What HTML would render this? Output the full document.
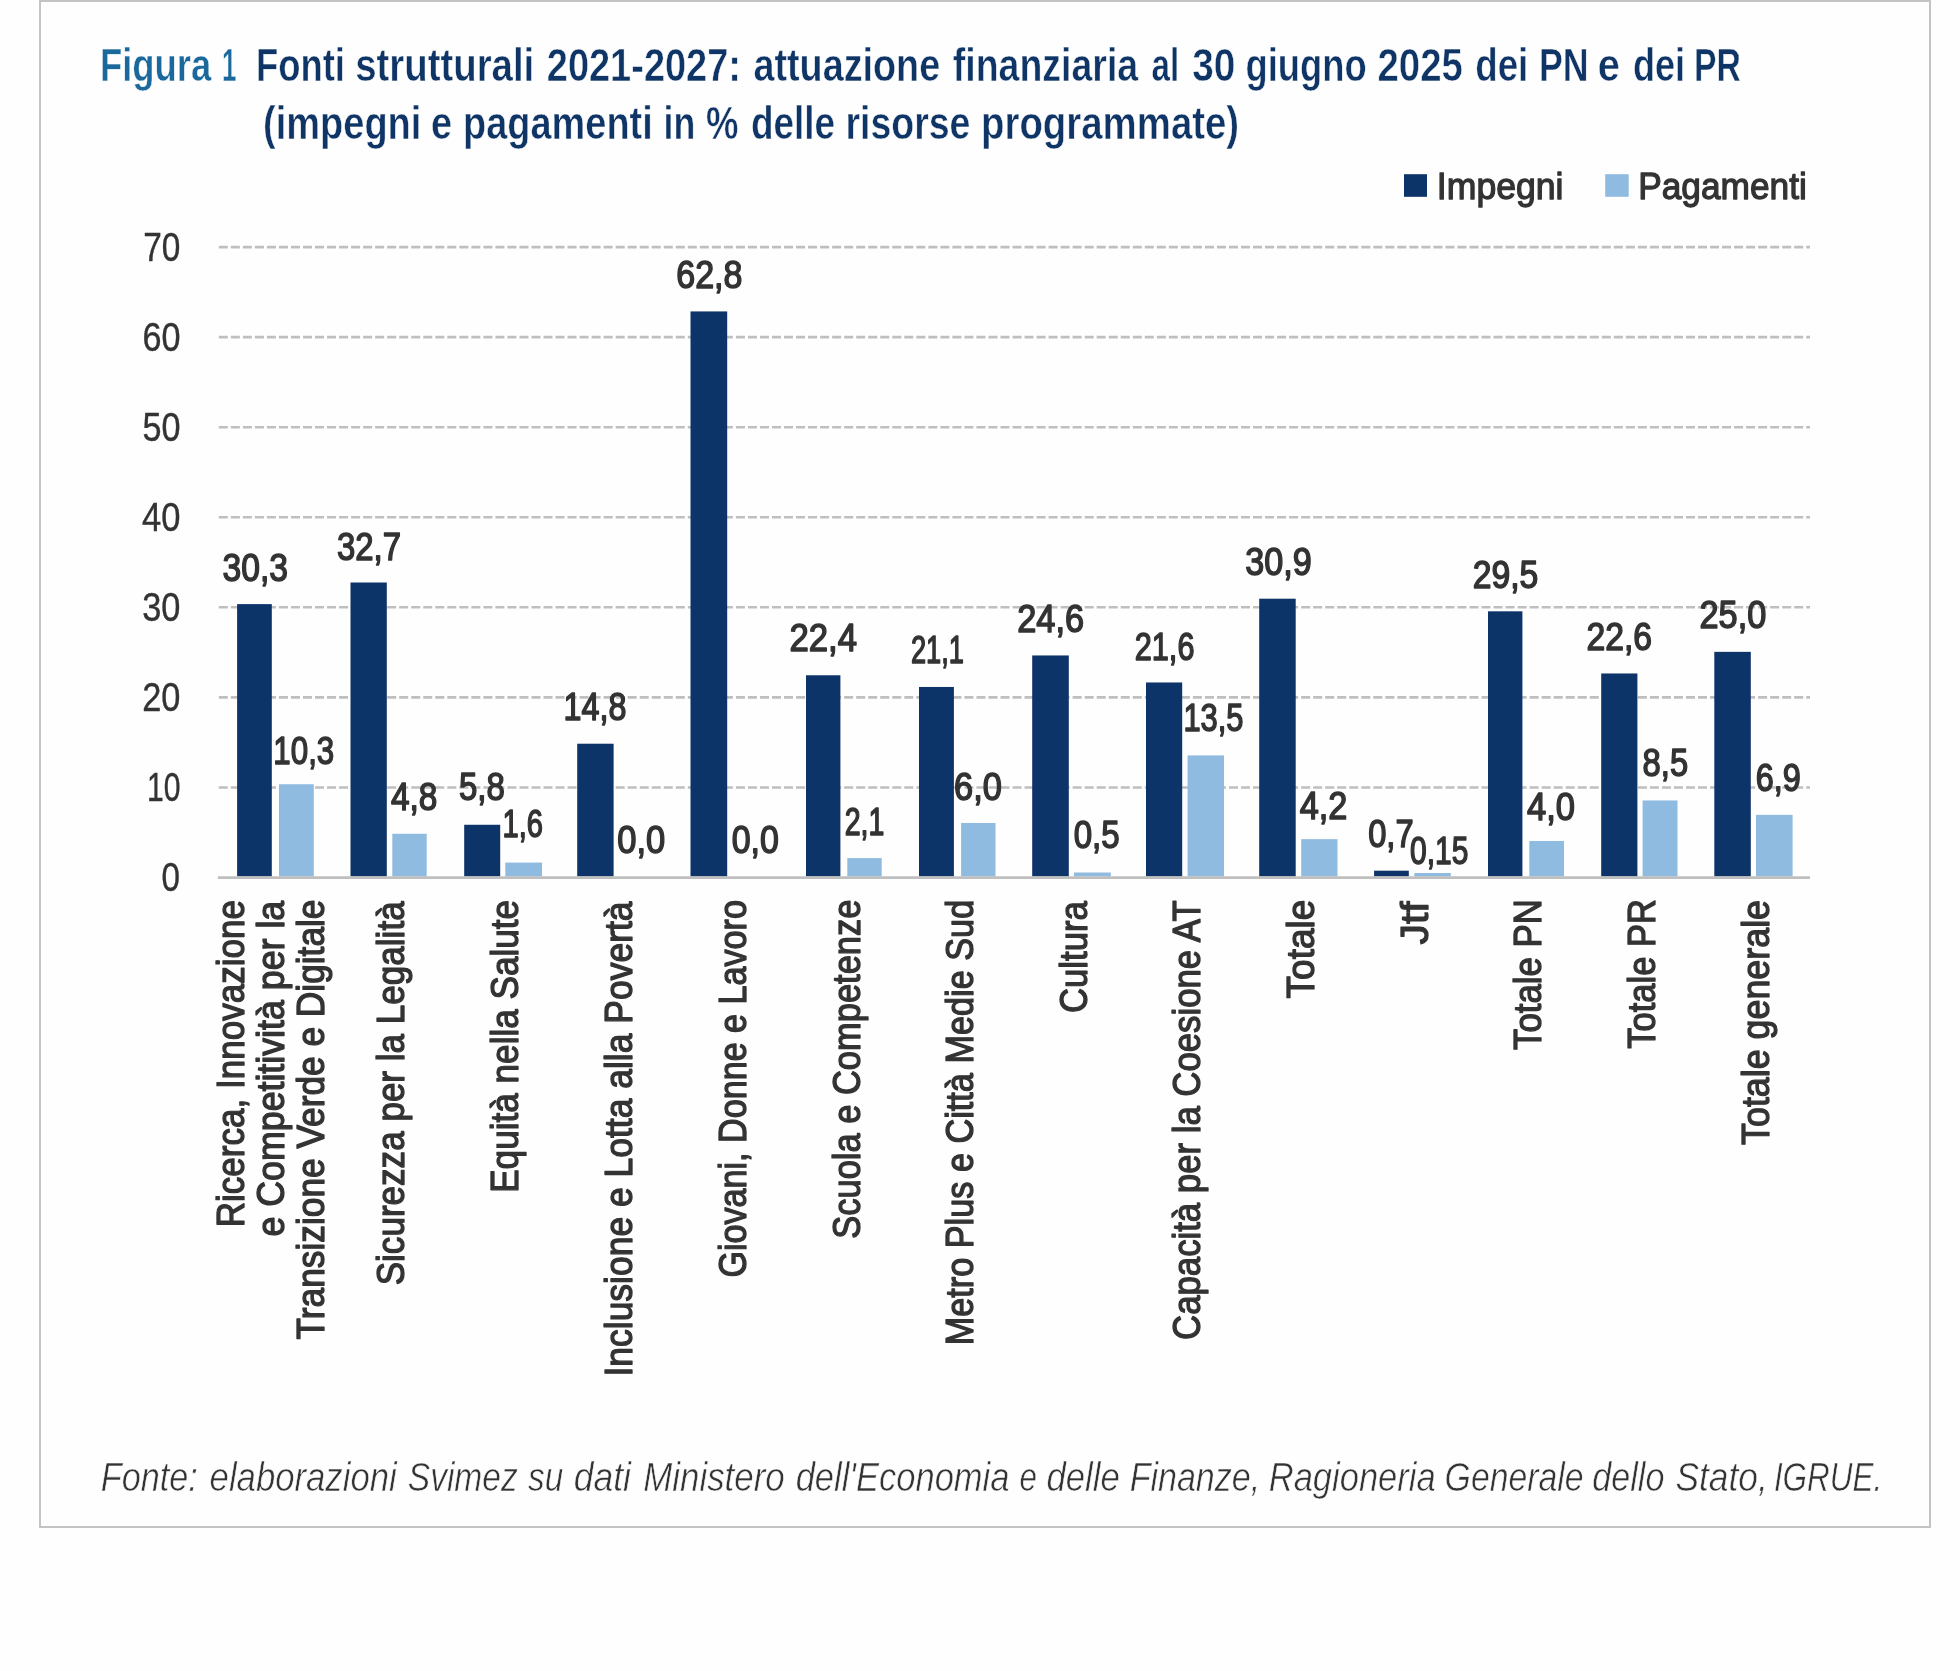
<!DOCTYPE html>
<html><head><meta charset="utf-8"><title>Figura 1</title>
<style>
html,body{margin:0;padding:0;background:#fefefe;}
body{width:1960px;height:1671px;overflow:hidden;}
svg{display:block;font-family:"Liberation Sans",sans-serif;will-change:transform;}
</style></head><body>
<svg width="1960" height="1671" viewBox="0 0 1960 1671">
<rect width="1960" height="1671" fill="#fefefe"/>
<rect x="40" y="1" width="1890" height="1526" fill="none" stroke="#c3c3c3" stroke-width="2"/>
<line x1="218.8" y1="787.44" x2="1810" y2="787.44" stroke="#bfbfbf" stroke-width="2.6" stroke-dasharray="9.02 3.006"/>
<line x1="218.8" y1="697.38" x2="1810" y2="697.38" stroke="#bfbfbf" stroke-width="2.6" stroke-dasharray="9.02 3.006"/>
<line x1="218.8" y1="607.32" x2="1810" y2="607.32" stroke="#bfbfbf" stroke-width="2.6" stroke-dasharray="9.02 3.006"/>
<line x1="218.8" y1="517.26" x2="1810" y2="517.26" stroke="#bfbfbf" stroke-width="2.6" stroke-dasharray="9.02 3.006"/>
<line x1="218.8" y1="427.20" x2="1810" y2="427.20" stroke="#bfbfbf" stroke-width="2.6" stroke-dasharray="9.02 3.006"/>
<line x1="218.8" y1="337.14" x2="1810" y2="337.14" stroke="#bfbfbf" stroke-width="2.6" stroke-dasharray="9.02 3.006"/>
<line x1="218.8" y1="247.08" x2="1810" y2="247.08" stroke="#bfbfbf" stroke-width="2.6" stroke-dasharray="9.02 3.006"/>
<rect x="237.10" y="604.12" width="34.70" height="272.38" fill="#0c3468"/>
<rect x="279.00" y="784.24" width="34.80" height="92.26" fill="#8fbbe0"/>
<rect x="350.50" y="582.50" width="36.30" height="294.00" fill="#0c3468"/>
<rect x="392.30" y="833.77" width="34.40" height="42.73" fill="#8fbbe0"/>
<rect x="464.20" y="824.77" width="36.00" height="51.73" fill="#0c3468"/>
<rect x="505.30" y="862.59" width="36.70" height="13.91" fill="#8fbbe0"/>
<rect x="577.20" y="743.71" width="36.40" height="132.79" fill="#0c3468"/>
<rect x="690.50" y="311.42" width="36.70" height="565.08" fill="#0c3468"/>
<rect x="806.00" y="675.27" width="34.40" height="201.23" fill="#0c3468"/>
<rect x="847.30" y="858.09" width="34.40" height="18.41" fill="#8fbbe0"/>
<rect x="919.00" y="686.97" width="34.90" height="189.53" fill="#0c3468"/>
<rect x="961.10" y="822.96" width="34.40" height="53.54" fill="#8fbbe0"/>
<rect x="1032.20" y="655.45" width="36.60" height="221.05" fill="#0c3468"/>
<rect x="1074.00" y="872.50" width="36.80" height="4.00" fill="#8fbbe0"/>
<rect x="1146.00" y="682.47" width="36.20" height="194.03" fill="#0c3468"/>
<rect x="1187.60" y="755.42" width="36.40" height="121.08" fill="#8fbbe0"/>
<rect x="1259.20" y="598.71" width="36.50" height="277.79" fill="#0c3468"/>
<rect x="1301.20" y="839.17" width="36.30" height="37.33" fill="#8fbbe0"/>
<rect x="1374.10" y="870.70" width="34.70" height="5.80" fill="#0c3468"/>
<rect x="1414.30" y="873.00" width="36.50" height="3.50" fill="#8fbbe0"/>
<rect x="1488.00" y="611.32" width="34.40" height="265.18" fill="#0c3468"/>
<rect x="1529.30" y="840.98" width="34.70" height="35.52" fill="#8fbbe0"/>
<rect x="1601.20" y="673.46" width="36.20" height="203.04" fill="#0c3468"/>
<rect x="1642.60" y="800.45" width="34.90" height="76.05" fill="#8fbbe0"/>
<rect x="1714.30" y="651.85" width="36.50" height="224.65" fill="#0c3468"/>
<rect x="1756.00" y="814.86" width="36.60" height="61.64" fill="#8fbbe0"/>
<line x1="217.9" y1="877.6" x2="1810" y2="877.6" stroke="#bfbfbf" stroke-width="2.6"/>
<rect x="1404" y="174.2" width="23" height="22.6" fill="#0c3468"/>
<rect x="1605.2" y="174.2" width="23.5" height="22.6" fill="#8fbbe0"/>
<text transform="translate(161.58 891.20) scale(0.8190 1)" font-size="40.5" font-weight="normal" font-style="normal" fill="#333333" stroke="#333333" stroke-width="0.4" stroke-linejoin="round">0</text>
<text transform="translate(146.91 801.14) scale(0.7429 1)" font-size="40.5" font-weight="normal" font-style="normal" fill="#333333" stroke="#333333" stroke-width="0.4" stroke-linejoin="round">10</text>
<text transform="translate(142.25 711.08) scale(0.8488 1)" font-size="40.5" font-weight="normal" font-style="normal" fill="#333333" stroke="#333333" stroke-width="0.4" stroke-linejoin="round">20</text>
<text transform="translate(142.25 621.02) scale(0.8488 1)" font-size="40.5" font-weight="normal" font-style="normal" fill="#333333" stroke="#333333" stroke-width="0.4" stroke-linejoin="round">30</text>
<text transform="translate(142.10 530.96) scale(0.8523 1)" font-size="40.5" font-weight="normal" font-style="normal" fill="#333333" stroke="#333333" stroke-width="0.4" stroke-linejoin="round">40</text>
<text transform="translate(142.46 440.90) scale(0.8442 1)" font-size="40.5" font-weight="normal" font-style="normal" fill="#333333" stroke="#333333" stroke-width="0.4" stroke-linejoin="round">50</text>
<text transform="translate(142.46 350.84) scale(0.8442 1)" font-size="40.5" font-weight="normal" font-style="normal" fill="#333333" stroke="#333333" stroke-width="0.4" stroke-linejoin="round">60</text>
<text transform="translate(143.27 260.78) scale(0.8256 1)" font-size="40.5" font-weight="normal" font-style="normal" fill="#333333" stroke="#333333" stroke-width="0.4" stroke-linejoin="round">70</text>
<text transform="translate(222.50 580.80) scale(0.8784 1)" font-size="38.3" font-weight="normal" font-style="normal" fill="#333333" stroke="#333333" stroke-width="1.5" stroke-linejoin="round">30,3</text>
<text transform="translate(273.37 763.90) scale(0.8167 1)" font-size="38.3" font-weight="normal" font-style="normal" fill="#333333" stroke="#333333" stroke-width="1.5" stroke-linejoin="round">10,3</text>
<text transform="translate(337.00 560.40) scale(0.8595 1)" font-size="38.3" font-weight="normal" font-style="normal" fill="#333333" stroke="#333333" stroke-width="1.5" stroke-linejoin="round">32,7</text>
<text transform="translate(391.00 810.20) scale(0.8717 1)" font-size="38.3" font-weight="normal" font-style="normal" fill="#333333" stroke="#333333" stroke-width="1.5" stroke-linejoin="round">4,8</text>
<text transform="translate(458.94 800.40) scale(0.8615 1)" font-size="38.3" font-weight="normal" font-style="normal" fill="#333333" stroke="#333333" stroke-width="1.5" stroke-linejoin="round">5,8</text>
<text transform="translate(502.48 837.10) scale(0.7608 1)" font-size="38.3" font-weight="normal" font-style="normal" fill="#333333" stroke="#333333" stroke-width="1.5" stroke-linejoin="round">1,6</text>
<text transform="translate(563.51 720.20) scale(0.8444 1)" font-size="38.3" font-weight="normal" font-style="normal" fill="#333333" stroke="#333333" stroke-width="1.5" stroke-linejoin="round">14,8</text>
<text transform="translate(617.20 852.90) scale(0.9019 1)" font-size="38.3" font-weight="normal" font-style="normal" fill="#333333" stroke="#333333" stroke-width="1.5" stroke-linejoin="round">0,0</text>
<text transform="translate(676.21 288.40) scale(0.8890 1)" font-size="38.3" font-weight="normal" font-style="normal" fill="#333333" stroke="#333333" stroke-width="1.5" stroke-linejoin="round">62,8</text>
<text transform="translate(731.70 852.90) scale(0.8849 1)" font-size="38.3" font-weight="normal" font-style="normal" fill="#333333" stroke="#333333" stroke-width="1.5" stroke-linejoin="round">0,0</text>
<text transform="translate(789.49 651.30) scale(0.9068 1)" font-size="38.3" font-weight="normal" font-style="normal" fill="#333333" stroke="#333333" stroke-width="1.5" stroke-linejoin="round">22,4</text>
<text transform="translate(844.65 835.40) scale(0.7462 1)" font-size="38.3" font-weight="normal" font-style="normal" fill="#333333" stroke="#333333" stroke-width="1.5" stroke-linejoin="round">2,1</text>
<text transform="translate(910.89 663.40) scale(0.7110 1)" font-size="38.3" font-weight="normal" font-style="normal" fill="#333333" stroke="#333333" stroke-width="1.5" stroke-linejoin="round">21,1</text>
<text transform="translate(954.10 800.30) scale(0.8981 1)" font-size="38.3" font-weight="normal" font-style="normal" fill="#333333" stroke="#333333" stroke-width="1.5" stroke-linejoin="round">6,0</text>
<text transform="translate(1017.20 631.60) scale(0.8973 1)" font-size="38.3" font-weight="normal" font-style="normal" fill="#333333" stroke="#333333" stroke-width="1.5" stroke-linejoin="round">24,6</text>
<text transform="translate(1073.70 847.90) scale(0.8642 1)" font-size="38.3" font-weight="normal" font-style="normal" fill="#333333" stroke="#333333" stroke-width="1.5" stroke-linejoin="round">0,5</text>
<text transform="translate(1134.80 660.30) scale(0.8000 1)" font-size="38.3" font-weight="normal" font-style="normal" fill="#333333" stroke="#333333" stroke-width="1.5" stroke-linejoin="round">21,6</text>
<text transform="translate(1183.39 731.20) scale(0.8056 1)" font-size="38.3" font-weight="normal" font-style="normal" fill="#333333" stroke="#333333" stroke-width="1.5" stroke-linejoin="round">13,5</text>
<text transform="translate(1245.20 575.00) scale(0.8919 1)" font-size="38.3" font-weight="normal" font-style="normal" fill="#333333" stroke="#333333" stroke-width="1.5" stroke-linejoin="round">30,9</text>
<text transform="translate(1299.70 819.00) scale(0.8962 1)" font-size="38.3" font-weight="normal" font-style="normal" fill="#333333" stroke="#333333" stroke-width="1.5" stroke-linejoin="round">4,2</text>
<text transform="translate(1368.20 847.30) scale(0.8528 1)" font-size="38.3" font-weight="normal" font-style="normal" fill="#333333" stroke="#333333" stroke-width="1.5" stroke-linejoin="round">0,7</text>
<text transform="translate(1410.00 864.00) scale(0.7824 1)" font-size="38.3" font-weight="normal" font-style="normal" fill="#333333" stroke="#333333" stroke-width="1.5" stroke-linejoin="round">0,15</text>
<text transform="translate(1472.72 588.00) scale(0.8808 1)" font-size="38.3" font-weight="normal" font-style="normal" fill="#333333" stroke="#333333" stroke-width="1.5" stroke-linejoin="round">29,5</text>
<text transform="translate(1527.00 820.00) scale(0.9019 1)" font-size="38.3" font-weight="normal" font-style="normal" fill="#333333" stroke="#333333" stroke-width="1.5" stroke-linejoin="round">4,0</text>
<text transform="translate(1586.42 650.40) scale(0.8808 1)" font-size="38.3" font-weight="normal" font-style="normal" fill="#333333" stroke="#333333" stroke-width="1.5" stroke-linejoin="round">22,6</text>
<text transform="translate(1642.60 776.00) scale(0.8547 1)" font-size="38.3" font-weight="normal" font-style="normal" fill="#333333" stroke="#333333" stroke-width="1.5" stroke-linejoin="round">8,5</text>
<text transform="translate(1699.50 628.40) scale(0.8959 1)" font-size="38.3" font-weight="normal" font-style="normal" fill="#333333" stroke="#333333" stroke-width="1.5" stroke-linejoin="round">25,0</text>
<text transform="translate(1755.65 790.90) scale(0.8462 1)" font-size="38.3" font-weight="normal" font-style="normal" fill="#333333" stroke="#333333" stroke-width="1.5" stroke-linejoin="round">6,9</text>
<text transform="translate(1436.81 199.20) scale(0.9427 1)" font-size="37.8" font-weight="normal" font-style="normal" fill="#333333" stroke="#333333" stroke-width="1.3" stroke-linejoin="round">Impegni</text>
<text transform="translate(1638.23 199.20) scale(0.9331 1)" font-size="37.8" font-weight="normal" font-style="normal" fill="#333333" stroke="#333333" stroke-width="1.3" stroke-linejoin="round">Pagamenti</text>
<text transform="translate(244.10 1227.31) rotate(-90) scale(0.9036 1)" font-size="38.8" font-weight="normal" font-style="normal" fill="#333333" stroke="#333333" stroke-width="1.3" stroke-linejoin="round">Ricerca, Innovazione</text>
<text transform="translate(283.90 1236.52) rotate(-90) scale(0.9214 1)" font-size="38.8" font-weight="normal" font-style="normal" fill="#333333" stroke="#333333" stroke-width="1.3" stroke-linejoin="round">e Competitività per la</text>
<text transform="translate(324.00 1339.40) rotate(-90) scale(0.9093 1)" font-size="38.8" font-weight="normal" font-style="normal" fill="#333333" stroke="#333333" stroke-width="1.3" stroke-linejoin="round">Transizione Verde e Digitale</text>
<text transform="translate(403.90 1285.30) rotate(-90) scale(0.9040 1)" font-size="38.8" font-weight="normal" font-style="normal" fill="#333333" stroke="#333333" stroke-width="1.3" stroke-linejoin="round">Sicurezza per la Legalità</text>
<text transform="translate(518.30 1192.81) rotate(-90) scale(0.9059 1)" font-size="38.8" font-weight="normal" font-style="normal" fill="#333333" stroke="#333333" stroke-width="1.3" stroke-linejoin="round">Equità nella Salute</text>
<text transform="translate(631.90 1376.53) rotate(-90) scale(0.9143 1)" font-size="38.8" font-weight="normal" font-style="normal" fill="#333333" stroke="#333333" stroke-width="1.3" stroke-linejoin="round">Inclusione e Lotta alla Povertà</text>
<text transform="translate(745.90 1277.58) rotate(-90) scale(0.8797 1)" font-size="38.8" font-weight="normal" font-style="normal" fill="#333333" stroke="#333333" stroke-width="1.3" stroke-linejoin="round">Giovani, Donne e Lavoro</text>
<text transform="translate(859.50 1238.69) rotate(-90) scale(0.8884 1)" font-size="38.8" font-weight="normal" font-style="normal" fill="#333333" stroke="#333333" stroke-width="1.3" stroke-linejoin="round">Scuola e Competenze</text>
<text transform="translate(973.10 1345.37) rotate(-90) scale(0.8833 1)" font-size="38.8" font-weight="normal" font-style="normal" fill="#333333" stroke="#333333" stroke-width="1.3" stroke-linejoin="round">Metro Plus e Città Medie Sud</text>
<text transform="translate(1086.70 1013.10) rotate(-90) scale(0.8960 1)" font-size="38.8" font-weight="normal" font-style="normal" fill="#333333" stroke="#333333" stroke-width="1.3" stroke-linejoin="round">Cultura</text>
<text transform="translate(1200.30 1339.90) rotate(-90) scale(0.8955 1)" font-size="38.8" font-weight="normal" font-style="normal" fill="#333333" stroke="#333333" stroke-width="1.3" stroke-linejoin="round">Capacità per la Coesione AT</text>
<text transform="translate(1314.30 998.40) rotate(-90) scale(0.9534 1)" font-size="38.8" font-weight="normal" font-style="normal" fill="#333333" stroke="#333333" stroke-width="1.3" stroke-linejoin="round">Totale</text>
<text transform="translate(1427.60 944.50) rotate(-90) scale(1.0548 1)" font-size="38.8" font-weight="normal" font-style="normal" fill="#333333" stroke="#333333" stroke-width="1.3" stroke-linejoin="round">Jtf</text>
<text transform="translate(1541.10 1050.00) rotate(-90) scale(0.8970 1)" font-size="38.8" font-weight="normal" font-style="normal" fill="#333333" stroke="#333333" stroke-width="1.3" stroke-linejoin="round">Totale PN</text>
<text transform="translate(1654.90 1048.70) rotate(-90) scale(0.8892 1)" font-size="38.8" font-weight="normal" font-style="normal" fill="#333333" stroke="#333333" stroke-width="1.3" stroke-linejoin="round">Totale PR</text>
<text transform="translate(1768.80 1144.90) rotate(-90) scale(0.9234 1)" font-size="38.8" font-weight="normal" font-style="normal" fill="#333333" stroke="#333333" stroke-width="1.3" stroke-linejoin="round">Totale generale</text>
<text transform="translate(99.93 81.00) scale(0.7844 1)" font-size="46.5" font-weight="bold" font-style="normal" fill="#1a689c" stroke="#fefefe" stroke-width="0.5">Figura</text>
<text transform="translate(221.97 81.00) scale(0.5576 1)" font-size="46.5" font-weight="bold" font-style="normal" fill="#1a689c" stroke="#fefefe" stroke-width="0.5">1</text>
<text transform="translate(255.98 81.00) scale(0.7826 1)" font-size="46.5" font-weight="bold" font-style="normal" fill="#0f3567" stroke="#fefefe" stroke-width="0.5">Fonti</text>
<text transform="translate(355.23 81.00) scale(0.8251 1)" font-size="46.5" font-weight="bold" font-style="normal" fill="#0f3567" stroke="#fefefe" stroke-width="0.5">strutturali</text>
<text transform="translate(546.76 81.00) scale(0.8170 1)" font-size="46.5" font-weight="bold" font-style="normal" fill="#0f3567" stroke="#fefefe" stroke-width="0.5">2021-2027:</text>
<text transform="translate(753.41 81.00) scale(0.8125 1)" font-size="46.5" font-weight="bold" font-style="normal" fill="#0f3567" stroke="#fefefe" stroke-width="0.5">attuazione</text>
<text transform="translate(952.82 81.00) scale(0.8063 1)" font-size="46.5" font-weight="bold" font-style="normal" fill="#0f3567" stroke="#fefefe" stroke-width="0.5">finanziaria</text>
<text transform="translate(1151.50 81.00) scale(0.7134 1)" font-size="46.5" font-weight="bold" font-style="normal" fill="#0f3567" stroke="#fefefe" stroke-width="0.5">al</text>
<text transform="translate(1192.17 81.00) scale(0.8347 1)" font-size="46.5" font-weight="bold" font-style="normal" fill="#0f3567" stroke="#fefefe" stroke-width="0.5">30</text>
<text transform="translate(1245.52 81.00) scale(0.7824 1)" font-size="46.5" font-weight="bold" font-style="normal" fill="#0f3567" stroke="#fefefe" stroke-width="0.5">giugno</text>
<text transform="translate(1377.50 81.00) scale(0.8259 1)" font-size="46.5" font-weight="bold" font-style="normal" fill="#0f3567" stroke="#fefefe" stroke-width="0.5">2025</text>
<text transform="translate(1475.21 81.00) scale(0.7906 1)" font-size="46.5" font-weight="bold" font-style="normal" fill="#0f3567" stroke="#fefefe" stroke-width="0.5">dei</text>
<text transform="translate(1538.90 81.00) scale(0.7688 1)" font-size="46.5" font-weight="bold" font-style="normal" fill="#0f3567" stroke="#fefefe" stroke-width="0.5">PN</text>
<text transform="translate(1597.66 81.00) scale(0.8568 1)" font-size="46.5" font-weight="bold" font-style="normal" fill="#0f3567" stroke="#fefefe" stroke-width="0.5">e</text>
<text transform="translate(1632.93 81.00) scale(0.7763 1)" font-size="46.5" font-weight="bold" font-style="normal" fill="#0f3567" stroke="#fefefe" stroke-width="0.5">dei</text>
<text transform="translate(1693.97 81.00) scale(0.7256 1)" font-size="46.5" font-weight="bold" font-style="normal" fill="#0f3567" stroke="#fefefe" stroke-width="0.5">PR</text>
<text transform="translate(263.06 139.00) scale(0.8175 1)" font-size="46.5" font-weight="bold" font-style="normal" fill="#0f3567" stroke="#fefefe" stroke-width="0.5">(impegni</text>
<text transform="translate(431.00 139.00) scale(0.8155 1)" font-size="46.5" font-weight="bold" font-style="normal" fill="#0f3567" stroke="#fefefe" stroke-width="0.5">e</text>
<text transform="translate(463.11 139.00) scale(0.8158 1)" font-size="46.5" font-weight="bold" font-style="normal" fill="#0f3567" stroke="#fefefe" stroke-width="0.5">pagamenti</text>
<text transform="translate(663.53 139.00) scale(0.7693 1)" font-size="46.5" font-weight="bold" font-style="normal" fill="#0f3567" stroke="#fefefe" stroke-width="0.5">in</text>
<text transform="translate(705.98 139.00) scale(0.7844 1)" font-size="46.5" font-weight="bold" font-style="normal" fill="#0f3567" stroke="#fefefe" stroke-width="0.5">%</text>
<text transform="translate(751.00 139.00) scale(0.7943 1)" font-size="46.5" font-weight="bold" font-style="normal" fill="#0f3567" stroke="#fefefe" stroke-width="0.5">delle</text>
<text transform="translate(845.46 139.00) scale(0.8057 1)" font-size="46.5" font-weight="bold" font-style="normal" fill="#0f3567" stroke="#fefefe" stroke-width="0.5">risorse</text>
<text transform="translate(981.03 139.00) scale(0.8260 1)" font-size="46.5" font-weight="bold" font-style="normal" fill="#0f3567" stroke="#fefefe" stroke-width="0.5">programmate)</text>
<text transform="translate(100.80 1491.00) scale(0.8248 1)" font-size="41.5" font-weight="normal" font-style="italic" fill="#333333" stroke="#fefefe" stroke-width="0.6">Fonte:</text>
<text transform="translate(209.58 1491.00) scale(0.8364 1)" font-size="41.5" font-weight="normal" font-style="italic" fill="#333333" stroke="#fefefe" stroke-width="0.6">elaborazioni</text>
<text transform="translate(407.76 1491.00) scale(0.8086 1)" font-size="41.5" font-weight="normal" font-style="italic" fill="#333333" stroke="#fefefe" stroke-width="0.6">Svimez</text>
<text transform="translate(528.09 1491.00) scale(0.8003 1)" font-size="41.5" font-weight="normal" font-style="italic" fill="#333333" stroke="#fefefe" stroke-width="0.6">su</text>
<text transform="translate(573.78 1491.00) scale(0.8529 1)" font-size="41.5" font-weight="normal" font-style="italic" fill="#333333" stroke="#fefefe" stroke-width="0.6">dati</text>
<text transform="translate(643.25 1491.00) scale(0.8399 1)" font-size="41.5" font-weight="normal" font-style="italic" fill="#333333" stroke="#fefefe" stroke-width="0.6">Ministero</text>
<text transform="translate(795.64 1491.00) scale(0.8323 1)" font-size="41.5" font-weight="normal" font-style="italic" fill="#333333" stroke="#fefefe" stroke-width="0.6">dell'Economia</text>
<text transform="translate(1019.46 1491.00) scale(0.7559 1)" font-size="41.5" font-weight="normal" font-style="italic" fill="#333333" stroke="#fefefe" stroke-width="0.6">e</text>
<text transform="translate(1046.42 1491.00) scale(0.8375 1)" font-size="41.5" font-weight="normal" font-style="italic" fill="#333333" stroke="#fefefe" stroke-width="0.6">delle</text>
<text transform="translate(1129.67 1491.00) scale(0.8204 1)" font-size="41.5" font-weight="normal" font-style="italic" fill="#333333" stroke="#fefefe" stroke-width="0.6">Finanze,</text>
<text transform="translate(1268.72 1491.00) scale(0.8318 1)" font-size="41.5" font-weight="normal" font-style="italic" fill="#333333" stroke="#fefefe" stroke-width="0.6">Ragioneria</text>
<text transform="translate(1444.62 1491.00) scale(0.8138 1)" font-size="41.5" font-weight="normal" font-style="italic" fill="#333333" stroke="#fefefe" stroke-width="0.6">Generale</text>
<text transform="translate(1592.34 1491.00) scale(0.8218 1)" font-size="41.5" font-weight="normal" font-style="italic" fill="#333333" stroke="#fefefe" stroke-width="0.6">dello</text>
<text transform="translate(1675.47 1491.00) scale(0.8511 1)" font-size="41.5" font-weight="normal" font-style="italic" fill="#333333" stroke="#fefefe" stroke-width="0.6">Stato,</text>
<text transform="translate(1773.88 1491.00) scale(0.7581 1)" font-size="41.5" font-weight="normal" font-style="italic" fill="#333333" stroke="#fefefe" stroke-width="0.6">IGRUE.</text>
</svg>
</body></html>
